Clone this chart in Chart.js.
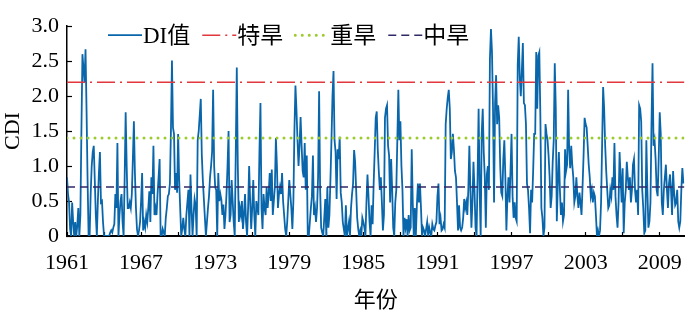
<!DOCTYPE html>
<html>
<head>
<meta charset="utf-8">
<script src="https://cdn.jsdelivr.net/npm/chart.js@4"></script>
<style>
  html, body { margin: 0; padding: 0; background: #fff; }
</style>
</head>
<body>
<canvas id="chart" width="700" height="322"></canvas>
<script>
// monthly CDI, Jan 1961 - Dec 2010
const startYear = 1961;
const endYear = 2011;
const tickYears = [1961, 1964, 1967, 1970, 1973, 1976, 1979, 1982, 1985, 1988, 1991, 1994, 1997, 2000, 2003, 2006, 2009];
const labelYears = [1961, 1967, 1973, 1979, 1985, 1991, 1997, 2003, 2009];
const yTicks = [0, 0.5, 1, 1.5, 2, 2.5, 3];
const seriesNames = ["DI值", "特旱", "重旱", "中旱"];
const thresholds = [2.2, 1.4, 0.7];

const cdi1961 = [
  0.84,0.6,0.48,0.1,0,0.48,0.2,0,0.2,0,
  0.15,0.4,0,0.3,1.5,2.6,2.4,2.2,2.67,1.8,
  0.8,0,0,0.6,1.0,1.2,1.29,0.8,0.3,0,
  0.5,0.9,1.2,0.48,0.5,0.2,0,0,0,0,
  0,0,0.05,0.08,0.05,0.12,0.17,0.6,0.4,1.33,
  0,0.3,0.5,0.6,0.2,0,0.8,1.77,1.0,0.4,
  0.4,0.48,0.4,0.6,1.1,1.64,0.9,0.4,0.1,0
];
const cdi1966 = [
  0.08,0.2,0.5,0.9,0.08,0.2,0.12,0.3,0.2,0.4,
  0.64,0.2,0.84,0.6,1.29,0.3,0.4,0.3,0.6,0.84,
  1.1,0,0,0.1,0.05,0,0.26,0.4,0.57,0.6,
  0.75,1.5,2.51,1.55,1.46,0.66,0.9,0.62,1.46,0.8,
  0.4,0,0.1,0.26,0.1,0,0.3,0.48,0.66,0,
  0.88,0.4,0,0.3,0.53,0.44,0,1.37,1.5,1.73,
  1.96,1.16,0.8,0.53,0.26,0,0.2,0.4,0.57,0.84,
  1.0,1.2,2.09,1.0,0.7,0.66,0
];
const cdi1973 = [
  0.9,0.5,0.6,0.52,0.3,0.45,0.1,0.3,0.6,1.0,
  1.5,0.2,0.3,0.8,0.5,0.2,0,1.2,2.41,1.0,
  0.2,0.4,0.3,0.5,0.1,0.3,0.6,0.2,0,0.4,
  1.0,0.5,0.1,0.4,0.8,0.3,0,0.5,0.4,0.3,
  1.2,1.9,0.4,0.1,0.6,0.4,0.3,0.7,0.4,0.6,
  0.9,0.5,0.95,0.3,0.5,0.7,1.4,1.0,0.4,0.6,
  0.7,0.6,0.9,0.5,0.3,0.1,0,0.2,0.5,0.8,
  0.6,0.4,0.1,0.5,1.5,2.15,1.8
];
const cdi1979 = [
  1.37,1.0,1.3,1.7,1.29,0.93,0.84,1.33,0.66,1.15,
  0,0,0.2,0.4,0.57,1.15,0.3,0.4,0.2,0.4,
  0.84,2.07,0.66,0.12,0.05,0,0.26,0.53,0,0.7,
  0.12,0.3,0.8,1.37,2.0,2.36,1.37,1.2,0.53,1.24,
  1.1,1.42,0.62,0.48,0.2,0.1,0,0.44,0,0.1,
  0.2,0,0.4,0.6,0.75,1.23,1.06,0.66,0.26,0.1,
  0,0.08,0,0.26,0.2,0.12,0,0.48,0.88,0.57,
  0.2,0,0.44,0.17,0.75,1.2,1.69
];
const cdi1986 = [
  1.78,1.24,0.93,0.66,0.84,0.48,0.08,0.3,1.69,1.82,
  1.87,1.29,1.15,0.48,1.1,0.66,0.12,0,0.48,0.66,
  1.37,2.09,1.37,1.64,1.0,0.66,0,0.26,0.12,0.24,
  0,0.3,0.08,0.12,1.24,0.48,0,0.4,0,0.44,
  0.75,0.48,0.75,0.4,0,0.12,0.08,0,0.1,0.2,
  0,0.12,0.05,0,0.17,0.1,0.08,0.15,0.2,0.57,
  0.75,0.17,0.26,0.08,0.1,0.17,0.12,1.6,1.82,1.98,
  2.09,1.82,1.1,1.2,1.46,1.24,0.93
];
const cdi1992 = [
  0.84,0.48,0.08,0.44,0.12,0.08,0.12,
  0.26,0.53,0.4,0.48,0.3,0.66,1.29,0.66,0.12,0.48,
  1.06,0.66,0.12,0,0.84,1.82,0.66,0,1.46,1.82,
  1.2,0.84,0.12,0.88,1.0,0.66,2.54,2.96,2.63,1.82,
  0.48,1.9,2.3,1.6,1.87,1.69,1.0,0.62,0.57,1.1,
  1.37,0.84,0.08,0.57,0.84,0.48,0.93,1.46,0.57,0.26,
  0.48,0.26,0.21,2.45,2.85,2.27,2.0,2.36,2.76,1.9,
  1.87,1.6,0.75,0.66,0.4,0.04,0.66,0.48,0.93,1.46
];
const cdi1998 = [
  1.46,2.63,1.82,2.58,2.63,1.73,0.4,0.26,0,0.12,
  1.6,1.46,1.37,1.15,0.84,0.4,0.57,1.06,1.37,2.47,
  1.82,0.21,0.75,1.2,0.66,0.3,0.48,0.21,0.3,1.24,
  0.93,1.02,2.09,1.24,0.97,1.29,1.02,0.84,0.48,0.57,
  0.84,0.57,0.4,0.62,0.48,0.3,0.7,1.15,1.69,1.6,
  1.55,1.29,1.02,0.84,0.57,0.66,0.48,0.62,0.57,0.3,
  0,0.08,0,0.08,0.48,1.29,2.13,1.82,1.29,0.93,
  0.66,0.4,0.44,0.66,0.57,0.84,0.66
];
const cdi2005 = [
  1.33,0.57,0.3,0.12,0.48,1.2,0.84,0.48,0.97,0.04,
  0.48,0.66,1.06,0.84,0.66,0.84,0.48,0.66,1.02,1.1,
  0.66,0.48,0.66,0.3,1.87,1.82,1.64,0.66,0.4,0.04,
  0.08,1.37,0.66,0.12,0.21,0.48,1.6,2.47,1.29,1.37,
  1.1,0.66,0.57,1.1,1.77,1.46,0.48,0.3,0.66,0.84,
  1.02,0.66,0.4,0.75,0.88,0.66,0.3,0.93,0.62,0.44,
  0.48,0.66,0.21,0.12,0.21,0.66,0.97,0.75
];

const cdi = [].concat(cdi1961, cdi1966, cdi1973, cdi1979, cdi1986, cdi1992, cdi1998, cdi2005);

const serif = '"Liberation Serif", "Times New Roman", "Noto Sans CJK SC", serif';
Chart.defaults.font.family = serif;
Chart.defaults.color = "#000";

const flatLine = (v) => [{ x: startYear, y: v }, { x: endYear, y: v }];

// legend sits inside the plot, in one row along the top
const inlineLegend = {
  id: "inlineLegend",
  afterDraw(chart) {
    const ctx = chart.ctx;
    let x = chart.chartArea.left + 41;
    const y = chart.chartArea.top + 9;
    ctx.save();
    ctx.font = "23px " + serif;
    ctx.textBaseline = "middle";
    chart.data.datasets.forEach((ds) => {
      ctx.beginPath();
      ctx.strokeStyle = ds.borderColor;
      ctx.lineWidth = ds.borderWidth;
      ctx.lineCap = ds.borderCapStyle || "butt";
      ctx.setLineDash(ds.borderDash || []);
      ctx.moveTo(x, y);
      ctx.lineTo(x + 34, y);
      ctx.stroke();
      ctx.setLineDash([]);
      ctx.fillStyle = "#000";
      ctx.fillText(ds.label, x + 35, y + 2);
      x += 35 + ctx.measureText(ds.label).width + 12;
    });
    ctx.restore();
  },
};

new Chart(document.getElementById("chart"), {
  type: "line",
  data: {
    datasets: [
      {
        label: seriesNames[0],
        data: cdi.map((v, i) => ({ x: startYear + i / 12, y: v })),
        borderColor: "#0a66ab",
        borderWidth: 1.8,
        pointRadius: 0,
        order: 1,
      },
      {
        label: seriesNames[1],
        data: flatLine(thresholds[0]),
        borderColor: "#e2373c",
        borderWidth: 1.5,
        borderDash: [18, 5, 2, 5],
        pointRadius: 0,
        order: 0,
      },
      {
        label: seriesNames[2],
        data: flatLine(thresholds[1]),
        borderColor: "#9ccc2c",
        borderWidth: 3,
        borderDash: [0, 7],
        borderCapStyle: "round",
        pointRadius: 0,
        order: 0,
      },
      {
        label: seriesNames[3],
        data: flatLine(thresholds[2]),
        borderColor: "#2f2966",
        borderWidth: 1.5,
        borderDash: [8, 5],
        pointRadius: 0,
        order: 0,
      },
    ],
  },
  options: {
    responsive: false,
    animation: false,
    devicePixelRatio: 1,
    layout: { padding: { top: 12, right: 7, left: 0, bottom: 0 } },
    scales: {
      x: {
        type: "linear",
        min: startYear,
        max: endYear,
        afterBuildTicks: (s) => { s.ticks = tickYears.map((v) => ({ value: v })); },
        afterFit: (s) => { s.height = 86; },
        ticks: {
          autoSkip: false,
          maxRotation: 0,
          padding: 18,
          font: { size: 22 },
          callback: (v) => (labelYears.includes(v) ? String(v) : ""),
        },
        grid: { drawOnChartArea: false, tickLength: -4, tickColor: "#000", tickWidth: 1.2 },
        border: { color: "#000", width: 2 },
        title: { display: true, text: "年份", font: { size: 22 }, padding: { top: 0, bottom: 8 } },
      },
      y: {
        min: 0,
        max: 3,
        afterBuildTicks: (s) => { s.ticks = yTicks.map((v) => ({ value: v })); },
        afterFit: (s) => { s.width = 67; },
        ticks: {
          padding: 13,
          font: { size: 22 },
          callback: (v) => (v === 0 ? "0" : v.toFixed(1)),
        },
        grid: { drawOnChartArea: false, tickLength: -5, tickColor: "#000", tickWidth: 1.2 },
        border: { color: "#000", width: 1.5 },
        title: { display: true, text: "CDI", font: { size: 22 }, padding: 0 },
      },
    },
    plugins: {
      legend: { display: false },
      tooltip: { enabled: false },
    },
  },
  plugins: [inlineLegend],
});
</script>
</body>
</html>
